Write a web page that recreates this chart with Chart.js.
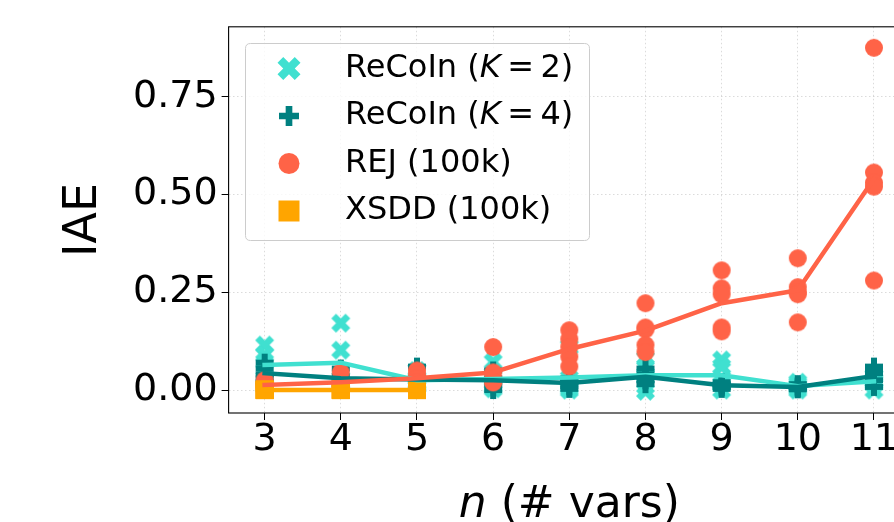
<!DOCTYPE html>
<html><head><meta charset="utf-8">
<script src="https://cdn.jsdelivr.net/npm/chart.js@4.4.1/dist/chart.umd.min.js"></script>
<style>
html,body{margin:0;padding:0;overflow:hidden;background:#fff;width:894px;height:522px}
#wrap{position:absolute;left:0;top:0;width:920px;height:522px}
</style>
</head><body><div id="wrap"><canvas id="c" width="920" height="522"></canvas></div>
<script>
// ---------------- data ----------------
const nVars = [3, 4, 5, 6, 7, 8, 9, 10, 11];
const xTicks = [3, 4, 5, 6, 7, 8, 9, 10, 11];
const yTicks = [0, 0.25, 0.5, 0.75];
const legendLabels = ['ReCoIn (K = 2)', 'ReCoIn (K = 4)', 'REJ (100k)', 'XSDD (100k)'];
const xTitle = 'n (# vars)';
const yTitle = 'IAE';

// individual runs per n
const recoinK2Runs = [
  [0.115, 0.09, 0.072, 0.03, 0.01],
  [0.171, 0.102, 0.03, 0.02, 0.015],
  [0.05, 0.03, 0.02, 0.015, 0.01],
  [0.072, 0.04, 0.02, 0.01, 0.003],
  [0.11, 0.03, 0.01, 0.005, 0.0],
  [0.08, 0.06, 0.04, 0.01, -0.003],
  [0.077, 0.06, 0.03, 0.015, 0.0],
  [0.02, 0.015, 0.01, 0.005, 0.0],
  [0.035, 0.025, 0.02, 0.015, 0.0]
];
const recoinK4Runs = [
  [0.07, 0.055, 0.04, 0.03, 0.02],
  [0.055, 0.035, 0.025, 0.02, 0.015],
  [0.06, 0.03, 0.02, 0.015, 0.01],
  [0.05, 0.03, 0.025, 0.015, 0.0],
  [0.03, 0.025, 0.02, 0.01, 0.003],
  [0.055, 0.04, 0.035, 0.025, 0.015],
  [0.02, 0.015, 0.012, 0.008, 0.003],
  [0.015, 0.01, 0.008, 0.005, 0.002],
  [0.06, 0.055, 0.043, 0.025, 0.008]
];
const rejRuns = [
  [0.025, 0.015, 0.01, 0.008, 0.005],
  [0.045, 0.02, 0.015, 0.01, 0.01],
  [0.05, 0.04, 0.03, 0.02, 0.01],
  [0.11, 0.045, 0.03, 0.02, 0.02],
  [0.153, 0.13, 0.11, 0.085, 0.06],
  [0.222, 0.16, 0.155, 0.115, 0.097],
  [0.306, 0.26, 0.245, 0.16, 0.15],
  [0.337, 0.263, 0.25, 0.245, 0.173],
  [0.875, 0.556, 0.53, 0.52, 0.28]
];
const xsddN = [3, 4, 5];
const xsddRuns = [
  [0.002, 0.001, 0.0, 0.0, 0.0],
  [0.002, 0.001, 0.0, 0.0, 0.0],
  [0.002, 0.001, 0.0, 0.0, 0.0]
];

// mean lines
const recoinK2Mean = [0.064, 0.07, 0.025, 0.028, 0.032, 0.038, 0.038, 0.01, 0.022];
const recoinK4Mean = [0.043, 0.03, 0.027, 0.025, 0.018, 0.034, 0.012, 0.008, 0.036];
const rejMean = [0.013, 0.02, 0.03, 0.045, 0.105, 0.152, 0.222, 0.255, 0.54];
const xsddMean = [0.0, 0.0, 0.0];

// ---------------- styling ----------------
const FONT = '"DejaVu Sans", sans-serif';
const C_K2 = '#40E0D0', C_K4 = '#008080', C_REJ = '#FF6347', C_XSDD = '#FFA500';

const PLUS_PTS = [[-1,-3],[-1,-1],[-3,-1],[-3,1],[-1,1],[-1,3],[1,3],[1,1],[3,1],[3,-1],[1,-1],[1,-3]].map(p=>[p[0]/6,p[1]/6]);
const X_PTS = [[-1,-2],[0,-1],[1,-2],[2,-1],[1,0],[2,1],[1,2],[0,1],[-1,2],[-2,1],[-1,0],[-2,-1]].map(p=>[p[0]/4,p[1]/4]);

function drawMarker(ctx, kind, cx, cy, s, color) {
  ctx.save();
  ctx.fillStyle = color;
  ctx.beginPath();
  if (kind === 'circle') ctx.arc(cx, cy, s / 2, 0, Math.PI * 2);
  else if (kind === 'square') ctx.rect(cx - s / 2, cy - s / 2, s, s);
  else {
    const pts = kind === 'plus' ? PLUS_PTS : X_PTS;
    pts.forEach((p, i) => { const x = cx + p[0] * s, y = cy + p[1] * s; if (i === 0) ctx.moveTo(x, y); else ctx.lineTo(x, y); });
    ctx.closePath();
  }
  ctx.fill();
  ctx.restore();
}
function markerCanvas(kind, s, color) {
  const c = document.createElement('canvas');
  const d = Math.ceil(s) + 2;
  c.width = d; c.height = d;
  drawMarker(c.getContext('2d'), kind, d / 2, d / 2, s, color);
  return c;
}

function runsToPoints(ns, runs) {
  const out = [];
  ns.forEach((n, i) => runs[i].forEach(v => out.push({x: n, y: v})));
  return out;
}
function meanToPoints(ns, means) { return ns.map((n, i) => ({x: n, y: means[i]})); }

function pointSet(data, kind, size, color, order) {
  return {data, showLine: false, pointStyle: markerCanvas(kind, size, color), pointRadius: 9,
          pointHoverRadius: 9, backgroundColor: color, borderColor: color, order};
}
function lineSet(data, color, order) {
  return {data, showLine: true, pointRadius: 0, pointHoverRadius: 0, borderColor: color,
          backgroundColor: color, borderWidth: 4.5, tension: 0, borderJoinStyle: 'round',
          borderCapStyle: 'square', order};
}

const legendItems = [
  {kind: 'x', size: 23, color: C_K2},
  {kind: 'plus', size: 20, color: C_K4},
  {kind: 'circle', size: 21, color: C_REJ},
  {kind: 'square', size: 21, color: C_XSDD}
];

// draw a label where "K" before " =" is math italic with tight spacing around "="
function drawMathLabel(ctx, lab, x, y, size) {
  const m = lab.match(/^(.*)K = (.*)$/);
  const norm = size + 'px ' + FONT, ital = 'italic ' + size + 'px ' + FONT;
  if (!m) { ctx.font = norm; ctx.fillText(lab, x, y); return; }
  const segs = [[m[1], norm, 0], ['K', ital, 0.2 * size], ['=', norm, 0.2 * size], [m[2], norm, 0]];
  segs.forEach(([t, f, gap]) => { ctx.font = f; ctx.fillText(t, x, y); x += ctx.measureText(t).width + gap; });
}

const framePlugin = {
  id: 'frameLegend',
  afterDatasetsDraw(chart) {
    const {ctx, chartArea: a} = chart;
    ctx.save();
    ctx.strokeStyle = '#000';
    ctx.lineWidth = 1.1;
    ctx.strokeRect(a.left, a.top, a.right - a.left, a.bottom - a.top);
    // x-axis title with italic n
    ctx.fillStyle = '#000';
    ctx.textBaseline = 'alphabetic';
    ctx.textAlign = 'left';
    const tParts = [[xTitle.slice(0, 1), 'italic 44px ' + FONT], [xTitle.slice(1), '44px ' + FONT]];
    let tw = 0;
    tParts.forEach(([t, f]) => { ctx.font = f; tw += ctx.measureText(t).width; });
    let tx = (a.left + a.right) / 2 - tw / 2;
    tParts.forEach(([t, f]) => { ctx.font = f; ctx.fillText(t, tx, 517); tx += ctx.measureText(t).width; });
    // legend box
    const bx = 245.5, by = 43.5, bw = 344, bh = 197, r = 5;
    ctx.beginPath();
    ctx.moveTo(bx + r, by); ctx.lineTo(bx + bw - r, by); ctx.quadraticCurveTo(bx + bw, by, bx + bw, by + r);
    ctx.lineTo(bx + bw, by + bh - r); ctx.quadraticCurveTo(bx + bw, by + bh, bx + bw - r, by + bh);
    ctx.lineTo(bx + r, by + bh); ctx.quadraticCurveTo(bx, by + bh, bx, by + bh - r);
    ctx.lineTo(bx, by + r); ctx.quadraticCurveTo(bx, by, bx + r, by);
    ctx.closePath();
    ctx.fillStyle = 'rgba(255,255,255,0.8)';
    ctx.fill();
    ctx.strokeStyle = '#cccccc';
    ctx.lineWidth = 1;
    ctx.stroke();
    const rows = [68.5, 116, 163.5, 211];
    ctx.textBaseline = 'middle';
    ctx.fillStyle = '#000';
    legendLabels.forEach((lab, i) => {
      const it = legendItems[i];
      drawMarker(ctx, it.kind, 289, rows[i], it.size, it.color);
      drawMathLabel(ctx, lab, 345, rows[i], 32);
    });
    ctx.restore();
  }
};

const gridCommon = {color: 'rgba(0,0,0,0.14)', lineWidth: 1, drawTicks: true, tickLength: 7,
                    tickColor: '#000', tickWidth: 1, tickBorderDash: [], borderDash: [1.5, 2.5]};

new Chart(document.getElementById('c'), {
  type: 'scatter',
  data: {
    datasets: [
      pointSet(runsToPoints(nVars, recoinK2Runs), 'x', 19, C_K2, 8),
      pointSet(runsToPoints(nVars, recoinK4Runs), 'plus', 18, C_K4, 7),
      pointSet(runsToPoints(nVars, rejRuns), 'circle', 18, C_REJ, 6),
      pointSet(runsToPoints(xsddN, xsddRuns), 'square', 18, C_XSDD, 5),
      lineSet(meanToPoints(nVars, recoinK2Mean), C_K2, 4),
      lineSet(meanToPoints(nVars, recoinK4Mean), C_K4, 3),
      lineSet(meanToPoints(nVars, rejMean), C_REJ, 2),
      lineSet(meanToPoints(xsddN, xsddMean), C_XSDD, 1)
    ]
  },
  options: {
    responsive: false,
    animation: false,
    events: [],
    layout: {padding: {top: 26, right: 1.6, left: 0, bottom: 0}},
    plugins: {legend: {display: false}, tooltip: {enabled: false}},
    scales: {
      x: {
        type: 'linear', min: 2.527, max: 11.473,
        afterBuildTicks: s => { s.ticks = xTicks.map(v => ({value: v})); },
        afterFit: s => { s.height = 109; },
        grid: Object.assign({}, gridCommon),
        border: {display: false, dash: [1.5, 2.5]},
        ticks: {color: '#000', font: {family: FONT, size: 38, lineHeight: 1}, padding: 1, maxRotation: 0,
                autoSkip: false, callback: v => String(v)},
        title: {display: false, text: xTitle}
      },
      y: {
        type: 'linear', min: -0.0587, max: 0.9286,
        afterBuildTicks: s => { s.ticks = yTicks.map(v => ({value: v})); },
        afterFit: s => { s.width = 228.6; },
        grid: Object.assign({}, gridCommon),
        border: {display: false, dash: [1.5, 2.5]},
        ticks: {color: '#000', font: {family: FONT, size: 38}, padding: 4, autoSkip: false,
                callback: v => v.toFixed(2)},
        title: {display: true, text: yTitle, color: '#000', font: {family: FONT, size: 46, lineHeight: 1.2},
                padding: {top: 56, bottom: 0}}
      }
    }
  },
  plugins: [framePlugin]
});
</script>
</body></html>
